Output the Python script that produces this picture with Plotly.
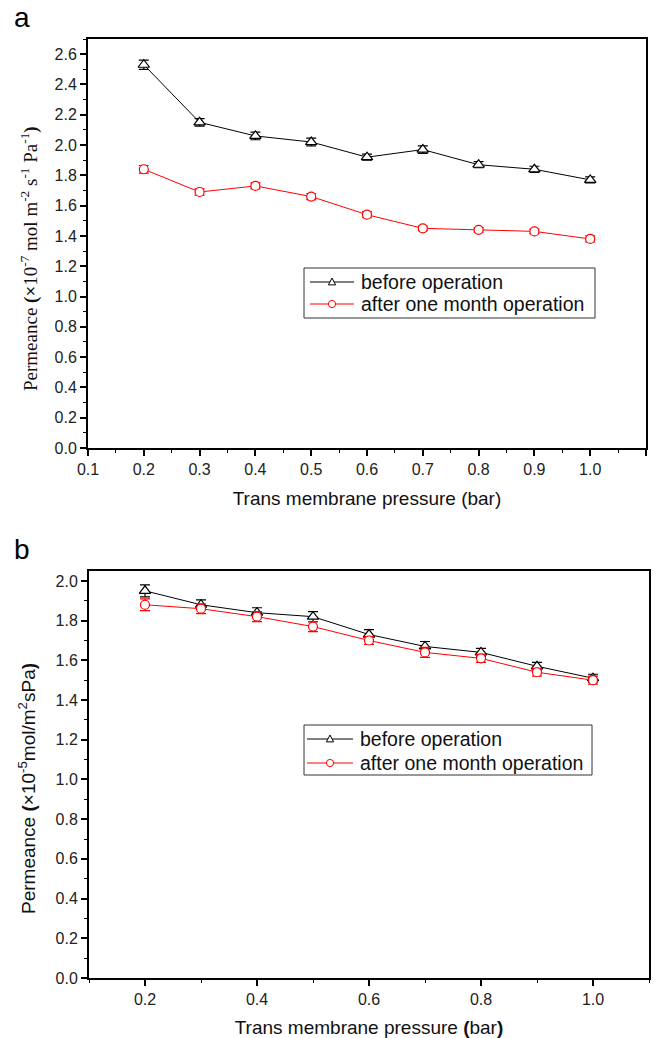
import plotly.graph_objects as go

# Trans membrane pressure (bar)
pressure = [0.2, 0.3, 0.4, 0.5, 0.6, 0.7, 0.8, 0.9, 1.0]

# Panel a: permeance (x10^-7 mol m^-2 s^-1 Pa^-1)
a_before = [2.53, 2.15, 2.06, 2.02, 1.92, 1.97, 1.87, 1.84, 1.77]
a_before_err = [0.03, 0.025, 0.025, 0.025, 0.02, 0.025, 0.02, 0.02, 0.02]
a_after = [1.84, 1.69, 1.73, 1.66, 1.54, 1.45, 1.44, 1.43, 1.38]
a_after_err = [0.025, 0.02, 0.02, 0.02, 0.02, 0.015, 0.015, 0.015, 0.02]

# Panel b: permeance (x10^-5 mol/m2 s Pa)
b_before = [1.95, 1.88, 1.84, 1.82, 1.73, 1.67, 1.64, 1.57, 1.51]
b_before_err = [0.03, 0.025, 0.025, 0.025, 0.025, 0.025, 0.02, 0.02, 0.02]
b_after = [1.88, 1.86, 1.82, 1.77, 1.70, 1.64, 1.61, 1.54, 1.50]
b_after_err = [0.03, 0.025, 0.025, 0.025, 0.02, 0.025, 0.02, 0.02, 0.02]

labels = ["before operation", "after one month operation"]
series_colors = ["black", "red"]

W, H = 657, 1038
FONT = "Liberation Sans, Arial, sans-serif"
SERIF = "Liberation Serif, Times New Roman, serif"


def px_x(p):
    return p / W


def px_y(p):
    return 1 - p / H


fig = go.Figure()


def add_series(x, y, err, name, color, symbol, size, xa, ya):
    fig.add_trace(go.Scatter(
        x=x, y=y, name=name, mode="lines+markers", showlegend=False,
        line=dict(color=color, width=1),
        marker=dict(symbol=symbol, size=size, color="white",
                    line=dict(color=color, width=1.2)),
        error_y=dict(type="data", array=err, color=color, thickness=1.2, width=5),
        xaxis=xa, yaxis=ya,
    ))


add_series(pressure, a_before, a_before_err, labels[0], "black", "triangle-up", 10, "x", "y")
add_series(pressure, a_after, a_after_err, labels[1], "red", "circle", 9, "x", "y")
add_series(pressure, b_before, b_before_err, labels[0], "black", "triangle-up", 10, "x2", "y2")
add_series(pressure, b_after, b_after_err, labels[1], "red", "circle", 9, "x2", "y2")

shapes = []
annotations = []


def legend_box(x0, y0, x1, y1, rows, line_x0, line_x1, text_x):
    """Framed key: one line sample with its marker and a label per row (pixel coords)."""
    shapes.append(dict(type="rect", xref="paper", yref="paper",
                       x0=px_x(x0), x1=px_x(x1), y0=px_y(y1), y1=px_y(y0),
                       line=dict(color="#333", width=1), fillcolor="white", layer="above"))
    for (cy, label, color, kind) in rows:
        shapes.append(dict(type="line", xref="paper", yref="paper",
                           x0=px_x(line_x0), x1=px_x(line_x1), y0=px_y(cy), y1=px_y(cy),
                           line=dict(color=color, width=1), layer="above"))
        mx = (line_x0 + line_x1) / 2
        if kind == "triangle":
            r = 3.6
            path = (f"M {px_x(mx - r)} {px_y(cy + r * 0.8)} "
                    f"L {px_x(mx + r)} {px_y(cy + r * 0.8)} "
                    f"L {px_x(mx)} {px_y(cy - r * 1.1)} Z")
            shapes.append(dict(type="path", xref="paper", yref="paper", path=path,
                               line=dict(color=color, width=1), fillcolor="white", layer="above"))
        else:
            r = 3.6
            shapes.append(dict(type="circle", xref="paper", yref="paper",
                               x0=px_x(mx - r), x1=px_x(mx + r),
                               y0=px_y(cy + r), y1=px_y(cy - r),
                               line=dict(color=color, width=1), fillcolor="white", layer="above"))
        annotations.append(dict(text=label, x=px_x(text_x), y=px_y(cy), xref="paper", yref="paper",
                                xanchor="left", yanchor="middle", showarrow=False,
                                font=dict(family=FONT, size=19.5, color="#111")))


legend_box(304, 268, 595, 318,
           [(282, labels[0], series_colors[0], "triangle"),
            (304, labels[1], series_colors[1], "circle")],
           310, 354, 359)
legend_box(304, 725, 592, 775,
           [(739, labels[0], series_colors[0], "triangle"),
            (763, labels[1], series_colors[1], "circle")],
           307, 353, 358)

# Panel letters
annotations.append(dict(text="a", x=px_x(12), y=px_y(0), xref="paper", yref="paper",
                        xanchor="left", yanchor="top", showarrow=False,
                        font=dict(family=FONT, size=28, color="black")))
annotations.append(dict(text="b", x=px_x(12), y=px_y(532), xref="paper", yref="paper",
                        xanchor="left", yanchor="top", showarrow=False,
                        font=dict(family=FONT, size=28, color="black")))

# Y axis titles
annotations.append(dict(
    text="Permeance <b>(×</b>10<sup>-7</sup> mol m<sup>-2</sup> s<sup>-1</sup> Pa<sup>-1</sup><b>)</b>",
    x=px_x(30), y=px_y(259), xref="paper", yref="paper", textangle=-90,
    xanchor="center", yanchor="middle", showarrow=False,
    font=dict(family=SERIF, size=19, color="#111")))
annotations.append(dict(
    text="Permeance <b>(</b>×10<sup>-5</sup>mol/m<sup>2</sup>sPa<b>)</b>",
    x=px_x(27), y=px_y(789), xref="paper", yref="paper", textangle=-90,
    xanchor="center", yanchor="middle", showarrow=False,
    font=dict(family=FONT, size=19, color="#111")))

axis_common = dict(
    showline=True, linecolor="black", linewidth=2, mirror=True,
    ticks="outside", ticklen=6, tickwidth=1.5, tickcolor="black",
    showgrid=False, zeroline=False, automargin=False,
    tickfont=dict(family=FONT, size=16, color="#222"),
)
minor_ticks = dict(ticks="outside", ticklen=3, tickwidth=1, tickcolor="black", showgrid=False)

fig.update_layout(
    width=W, height=H,
    margin=dict(l=0, r=0, t=0, b=0),
    paper_bgcolor="white", plot_bgcolor="white",
    showlegend=False,
    xaxis=dict(
        **axis_common, domain=[px_x(88), px_x(646)], anchor="y",
        range=[0.1, 1.1], tick0=0.1, dtick=0.1, tickformat=".1f",
        minor=dict(**minor_ticks, dtick=0.05),
        title=dict(text="Trans membrane pressure (bar)", standoff=14,
                   font=dict(family=FONT, size=19, color="#111")),
    ),
    yaxis=dict(
        **axis_common, domain=[px_y(448), px_y(39)], anchor="x",
        range=[0, 2.7], tick0=0, dtick=0.2, tickformat=".1f",
        minor=dict(**minor_ticks, dtick=0.1),
    ),
    xaxis2=dict(
        **axis_common, domain=[px_x(89), px_x(649)], anchor="y2",
        range=[0.1, 1.1], tick0=0.2, dtick=0.2, tickformat=".1f",
        minor=dict(**minor_ticks, dtick=0.1),
        title=dict(text="Trans membrane pressure <b>(</b>bar<b>)</b>", standoff=14,
                   font=dict(family=FONT, size=19, color="#111")),
    ),
    yaxis2=dict(
        **axis_common, domain=[px_y(978), px_y(571)], anchor="x2",
        range=[0, 2.05], tick0=0, dtick=0.2, tickformat=".1f",
        minor=dict(**minor_ticks, dtick=0.1),
    ),
    shapes=shapes,
    annotations=annotations,
)

fig.write_html("out.html")
